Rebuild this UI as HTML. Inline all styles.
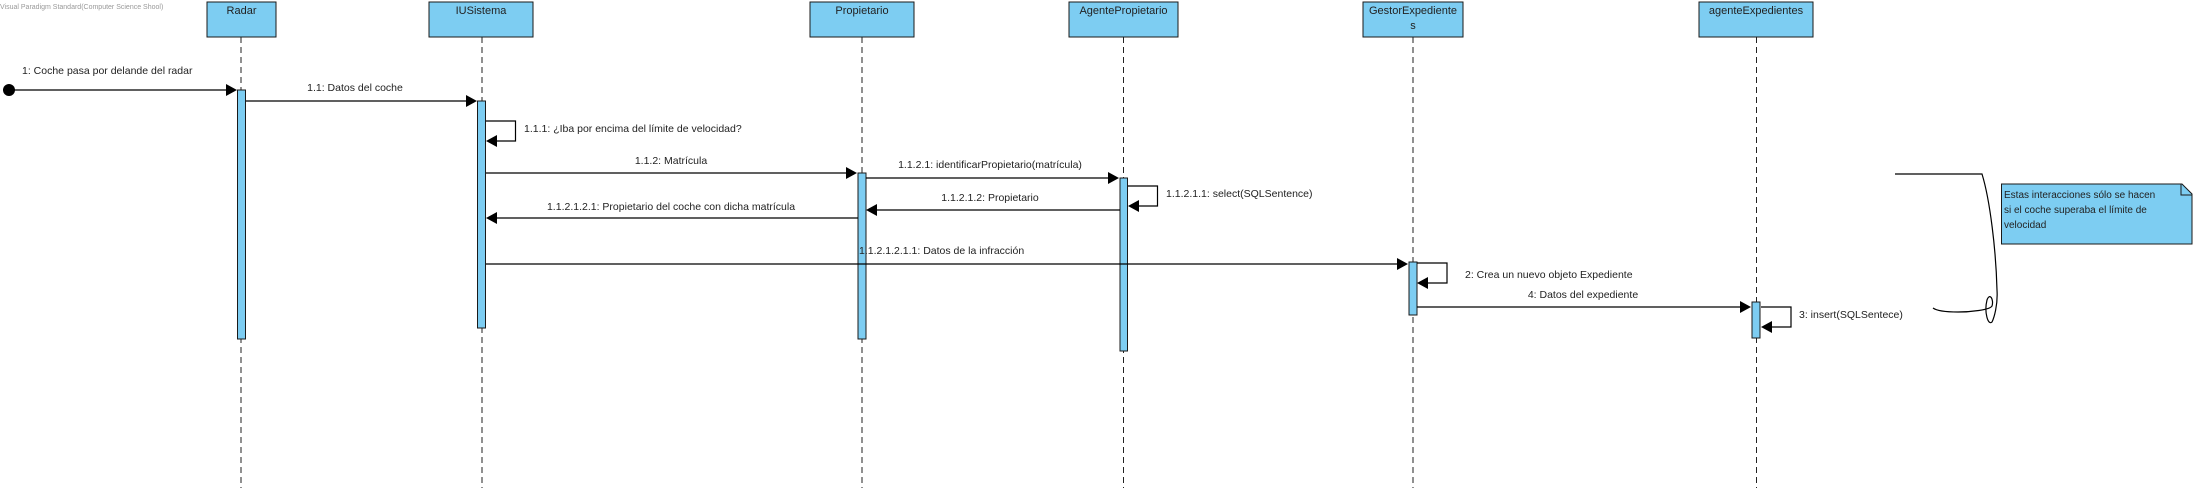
<!DOCTYPE html>
<html><head><meta charset="utf-8"><style>
html,body{margin:0;padding:0;background:#fff;}
svg{display:block;font-family:"Liberation Sans",Arial,sans-serif;}
text{font-size:10.5px;fill:#222;}
.box{fill:#7dcdf2;stroke:#1a1a1a;stroke-width:1;}
.life{stroke:#222;stroke-width:1;stroke-dasharray:6,4;}
.act{fill:#7dcdf2;stroke:#1a1a1a;stroke-width:1;}
.m{stroke:#000;stroke-width:1.2;fill:none;}
.ah{fill:#000;}
</style></head><body>
<svg width="2196" height="488" viewBox="0 0 2196 488">
<text x="0" y="9" style="font-size:7px;fill:#999">Visual Paradigm Standard(Computer Science Shool)</text>
<!-- lifelines -->
<line class="life" x1="241" y1="37" x2="241" y2="488"/>
<line class="life" x1="482" y1="37" x2="482" y2="488"/>
<line class="life" x1="862" y1="37" x2="862" y2="488"/>
<line class="life" x1="1123.5" y1="37" x2="1123.5" y2="488"/>
<line class="life" x1="1413" y1="37" x2="1413" y2="488"/>
<line class="life" x1="1756.5" y1="37" x2="1756.5" y2="488"/>
<!-- boxes -->
<rect class="box" x="207" y="2" width="69" height="35"/>
<text x="241.5" y="14" text-anchor="middle" style="font-size:11px">Radar</text>
<rect class="box" x="429" y="2" width="104" height="35"/>
<text x="481" y="14" text-anchor="middle" style="font-size:11px">IUSistema</text>
<rect class="box" x="810" y="2" width="104" height="35"/>
<text x="862" y="14" text-anchor="middle" style="font-size:11px">Propietario</text>
<rect class="box" x="1069" y="2" width="109" height="35"/>
<text x="1123.5" y="14" text-anchor="middle" style="font-size:11px">AgentePropietario</text>
<rect class="box" x="1363" y="2" width="100" height="35"/>
<text x="1413" y="14" text-anchor="middle" style="font-size:11px">GestorExpediente</text>
<text x="1413" y="29" text-anchor="middle" style="font-size:11px">s</text>
<rect class="box" x="1699" y="2" width="114" height="35"/>
<text x="1756" y="14" text-anchor="middle" style="font-size:11px">agenteExpedientes</text>
<!-- activations -->
<rect class="act" x="237.5" y="90" width="8" height="249"/>
<rect class="act" x="477.5" y="101" width="8" height="227"/>
<rect class="act" x="858" y="173" width="8" height="166"/>
<rect class="act" x="1120" y="178" width="7.5" height="173"/>
<rect class="act" x="1409" y="262" width="8" height="53"/>
<rect class="act" x="1752" y="302" width="8" height="36"/>
<!-- msg 1 -->
<circle cx="9" cy="90" r="6" fill="#000"/>
<line class="m" x1="9" y1="90" x2="228" y2="90"/>
<polygon class="ah" points="237,90 226,84 226,96"/>
<text x="22" y="74">1: Coche pasa por delande del radar</text>
<!-- 1.1 -->
<line class="m" x1="246" y1="101" x2="468" y2="101"/>
<polygon class="ah" points="477,101 466,95 466,107"/>
<text x="355" y="91" text-anchor="middle">1.1: Datos del coche</text>
<!-- 1.1.1 self -->
<polyline class="m" points="486,121 515.5,121 515.5,141 494,141"/>
<polygon class="ah" points="486,141 497,135 497,147"/>
<text x="524" y="132">1.1.1: ¿Iba por encima del límite de velocidad?</text>
<!-- 1.1.2 -->
<line class="m" x1="486" y1="173" x2="848" y2="173"/>
<polygon class="ah" points="857,173 846,167 846,179"/>
<text x="671" y="164" text-anchor="middle">1.1.2: Matrícula</text>
<!-- 1.1.2.1 -->
<line class="m" x1="866" y1="178" x2="1110" y2="178"/>
<polygon class="ah" points="1119,178 1108,172 1108,184"/>
<text x="990" y="168" text-anchor="middle">1.1.2.1: identificarPropietario(matrícula)</text>
<!-- self select -->
<polyline class="m" points="1128,186 1157.5,186 1157.5,206 1136,206"/>
<polygon class="ah" points="1128,206 1139,200 1139,212"/>
<text x="1166" y="197">1.1.2.1.1: select(SQLSentence)</text>
<!-- 1.1.2.1.2 -->
<line class="m" x1="1120" y1="210" x2="875" y2="210"/>
<polygon class="ah" points="866,210 877,204 877,216"/>
<text x="990" y="201" text-anchor="middle">1.1.2.1.2: Propietario</text>
<!-- 1.1.2.1.2.1 -->
<line class="m" x1="858" y1="218" x2="495" y2="218"/>
<polygon class="ah" points="486,218 497,212 497,224"/>
<text x="671" y="210" text-anchor="middle">1.1.2.1.2.1: Propietario del coche con dicha matrícula</text>
<!-- infraccion -->
<line class="m" x1="486" y1="264" x2="1399" y2="264"/>
<polygon class="ah" points="1408,264 1397,258 1397,270"/>
<text x="859" y="254">1.1.2.1.2.1.1: Datos de la infracción</text>
<!-- self 2 -->
<polyline class="m" points="1417,263 1447,263 1447,283 1426,283"/>
<polygon class="ah" points="1417,283 1428,277 1428,289"/>
<text x="1465" y="278">2: Crea un nuevo objeto Expediente</text>
<!-- 4 -->
<line class="m" x1="1417" y1="307" x2="1742" y2="307"/>
<polygon class="ah" points="1751,307 1740,301 1740,313"/>
<text x="1583" y="298" text-anchor="middle">4: Datos del expediente</text>
<!-- self 3 -->
<polyline class="m" points="1761,307 1791,307 1791,327 1770,327"/>
<polygon class="ah" points="1761,327 1772,321 1772,333"/>
<text x="1799" y="318">3: insert(SQLSentece)</text>
<!-- brace -->
<path class="m" d="M1895,174 L1982,174 C1990,200 1996,250 1997,290 C1998,305 1994,318 1992,322 C1988,326 1984,312 1987,300 C1990,292 1994,300 1992,306 C1990,310 1970,312 1958,312 C1945,312 1937,311 1933,308" stroke-width="1"/>
<!-- note -->
<path d="M2001.5,184 L2182,184 L2192,194 L2192,244 L2001.5,244 Z" fill="#7dcdf2" stroke="#1a1a1a" stroke-width="1"/>
<polyline points="2181,184 2181,195 2192,195" fill="none" stroke="#1a1a1a" stroke-width="1"/>
<text x="2004" y="198" style="font-size:10px">Estas interacciones sólo se hacen</text>
<text x="2004" y="213" style="font-size:10px">si el coche superaba el límite de</text>
<text x="2004" y="228" style="font-size:10px">velocidad</text>
</svg>
</body></html>
